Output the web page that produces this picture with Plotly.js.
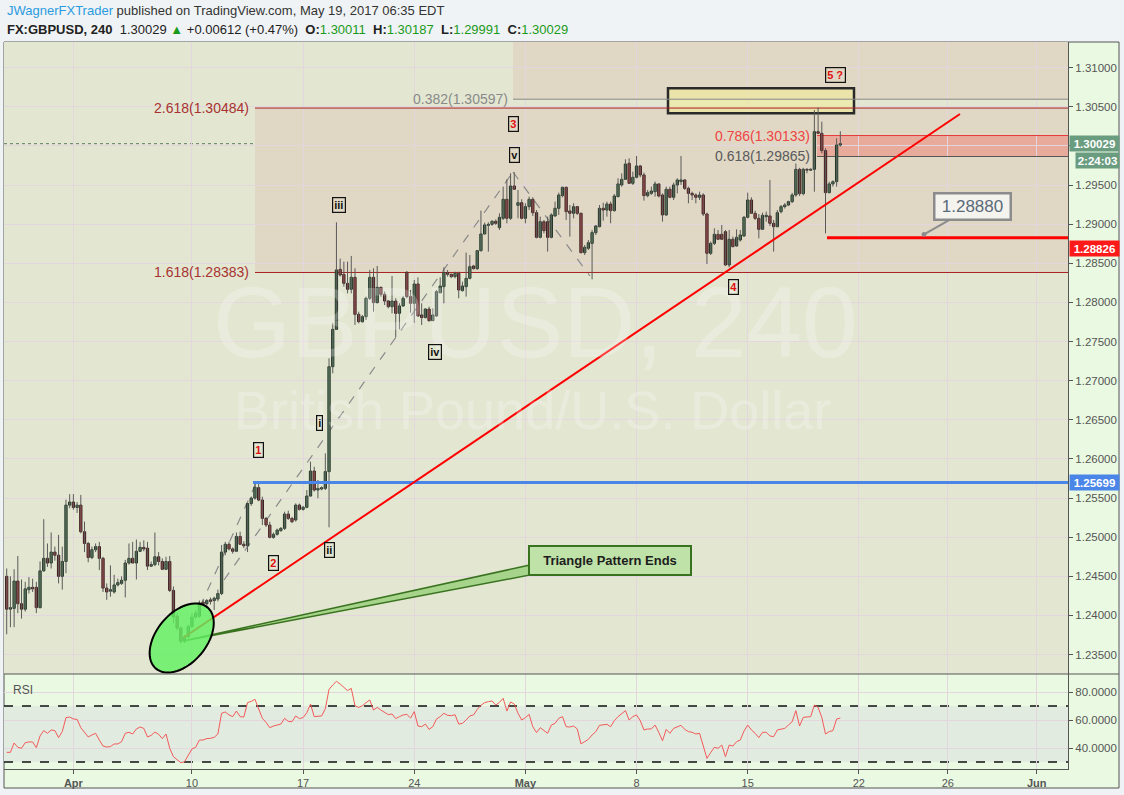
<!DOCTYPE html>
<html><head><meta charset="utf-8">
<script src="https://cdn.plot.ly/plotly-3.0.1.min.js"></script>
<style>html,body{margin:0;padding:0;background:#f0f3f5;}#chart{width:1124px;height:795px;}</style>
</head><body><div id="chart"></div>
<script>
// ---------------- DATA (240-minute GBPUSD bars) ----------------
const opens = [1.2450,1.2408,1.2409,1.2444,1.2415,1.2408,1.2433,1.2436,1.2436,1.2410,
1.2457,1.2473,1.2467,1.2481,1.2477,1.2450,1.2469,1.2541,1.2545,1.2538,
1.2541,1.2507,1.2492,1.2474,1.2484,1.2488,1.2473,1.2435,1.2431,1.2430,
1.2439,1.2441,1.2445,1.2467,1.2473,1.2467,1.2482,1.2487,1.2486,1.2463,
1.2465,1.2475,1.2469,1.2459,1.2469,1.2432,1.2399,1.2384,1.2367,1.2373,
1.2386,1.2398,1.2399,1.2417,1.2415,1.2420,1.2419,1.2421,1.2428,1.2481,
1.2491,1.2485,1.2482,1.2501,1.2491,1.2489,1.2543,1.2550,1.25633,1.25475,
1.25241,1.25156,1.24998,1.25037,1.25084,1.25113,1.25296,1.25241,1.25220,1.25411,
1.25356,1.25382,1.25526,1.25846,1.25603,1.25616,1.25624,1.25838,1.27179,1.27656,
1.28423,1.28359,1.28244,1.28168,1.28321,1.27848,1.27754,1.27818,1.28053,1.28321,
1.27997,1.28193,1.28104,1.28018,1.27946,1.28018,1.27861,1.27955,1.28385,1.28074,
1.27989,1.28236,1.27840,1.27806,1.27916,1.27767,1.27827,1.28125,1.28202,1.28381,
1.28359,1.28330,1.28372,1.28151,1.28202,1.28308,1.28466,1.28432,1.28662,1.28875,
1.28985,1.28998,1.29037,1.28956,1.29075,1.29318,1.29075,1.29488,1.29241,1.29275,
1.29075,1.29224,1.29318,1.29147,1.28832,1.29032,1.29032,1.28832,1.29105,1.29203,
1.29365,1.29471,1.29169,1.29139,1.29224,1.29139,1.28636,1.28692,1.28755,1.28892,
1.28968,1.29203,1.29181,1.29258,1.29173,1.29352,1.29501,1.29573,1.29778,1.29522,
1.29599,1.29744,1.29629,1.29365,1.29395,1.29416,1.29514,1.29373,1.29118,1.29446,
1.29343,1.29501,1.29544,1.29565,1.29458,1.29394,1.29373,1.29343,1.29373,1.29130,
1.28628,1.28755,1.28870,1.28870,1.28904,1.28479,1.28807,1.28721,1.28798,1.28849,
1.29088,1.29309,1.29139,1.29075,1.28934,1.29096,1.29105,1.29011,1.28968,1.29160,
1.29224,1.29245,1.29288,1.29373,1.29701,1.29390,1.29701,1.29690,1.29701,1.30182,
1.30161,1.29940,1.29403,1.29514,1.29543,1.30011];
const highs = [1.2460,1.2450,1.2459,1.2476,1.2446,1.2443,1.2449,1.2447,1.2443,1.2469,
1.2523,1.2492,1.2506,1.2488,1.2503,1.2488,1.2548,1.2555,1.2555,1.2545,
1.2554,1.2520,1.2494,1.2488,1.2492,1.2494,1.2475,1.2441,1.2464,1.2452,
1.2447,1.2450,1.2471,1.2492,1.2494,1.2497,1.2494,1.2496,1.2494,1.2469,
1.2506,1.2481,1.2473,1.2475,1.2476,1.2437,1.2403,1.2386,1.2375,1.2388,
1.2403,1.2407,1.2419,1.2420,1.2421,1.2423,1.2424,1.2433,1.2490,1.2494,
1.2494,1.2487,1.2506,1.2507,1.2495,1.2543,1.2552,1.2570,1.25699,1.25518,
1.25260,1.25198,1.25060,1.25110,1.25130,1.25326,1.25339,1.25260,1.25432,1.25430,
1.25400,1.25603,1.25965,1.25901,1.25731,1.25650,1.26072,1.27286,1.27733,1.29024,
1.28560,1.28521,1.28521,1.28594,1.28436,1.27882,1.27840,1.28074,1.28415,1.28436,
1.28466,1.28202,1.28138,1.28031,1.28338,1.28053,1.27989,1.28082,1.28400,1.28159,
1.28287,1.28321,1.27989,1.27925,1.27946,1.27925,1.28159,1.28321,1.28449,1.28415,
1.28370,1.28393,1.28393,1.28265,1.28636,1.28606,1.28480,1.28670,1.29173,1.29020,
1.29024,1.29050,1.29060,1.29139,1.29480,1.29573,1.29650,1.29663,1.29437,1.29318,
1.29267,1.29352,1.29343,1.29181,1.29096,1.29054,1.29096,1.29139,1.29288,1.29403,
1.29480,1.29480,1.29245,1.29267,1.29230,1.29147,1.28734,1.28798,1.28926,1.28990,
1.29245,1.29275,1.29288,1.29288,1.29386,1.29586,1.29650,1.29829,1.29842,1.29671,
1.29872,1.29757,1.29659,1.29437,1.29480,1.29544,1.29522,1.29394,1.29480,1.29480,
1.29531,1.29586,1.29872,1.29573,1.29480,1.29416,1.29394,1.29416,1.29394,1.29147,
1.28777,1.28947,1.28926,1.28990,1.28926,1.28926,1.28841,1.28934,1.28926,1.29105,
1.29403,1.29343,1.29173,1.29130,1.29147,1.29160,1.29565,1.29054,1.29181,1.29245,
1.29270,1.29300,1.29400,1.29775,1.29720,1.29720,1.29715,1.29715,1.30459,1.30490,
1.30310,1.29970,1.29543,1.29560,1.30097,1.30187];
const lows = [1.2376,1.2385,1.2385,1.2403,1.2396,1.2405,1.2428,1.2430,1.2403,1.2409,
1.2456,1.2462,1.2460,1.2470,1.2441,1.2433,1.2454,1.2537,1.2535,1.2531,
1.2505,1.2481,1.2468,1.2472,1.2481,1.2458,1.2430,1.2420,1.2424,1.2428,
1.2437,1.2439,1.2423,1.2465,1.2467,1.2446,1.2482,1.2482,1.2458,1.2462,
1.2463,1.2464,1.2458,1.2458,1.2430,1.2390,1.2381,1.2364,1.2365,1.2371,
1.2384,1.2396,1.2397,1.2413,1.2411,1.2414,1.2407,1.2418,1.2426,1.2477,
1.2483,1.2479,1.2481,1.2490,1.2486,1.2481,1.2540,1.2548,1.2546,1.25156,
1.25130,1.24985,1.24980,1.25020,1.25070,1.25092,1.25220,1.25180,1.25200,1.25340,
1.25340,1.25370,1.25518,1.25582,1.25497,1.25600,1.25603,1.25126,1.27094,1.27650,
1.28330,1.28202,1.28116,1.28116,1.27712,1.27733,1.27742,1.27776,1.28031,1.27882,
1.27989,1.28074,1.27967,1.27925,1.27861,1.27554,1.27656,1.27946,1.28053,1.27869,
1.27742,1.27818,1.27712,1.27797,1.27754,1.27767,1.27818,1.28116,1.27989,1.28330,
1.28310,1.28308,1.28053,1.28138,1.28074,1.28295,1.28420,1.28415,1.28649,1.28870,
1.28649,1.28980,1.28990,1.28926,1.29054,1.29011,1.29054,1.29437,1.29075,1.29062,
1.29011,1.29181,1.29105,1.28819,1.28819,1.28883,1.28649,1.28819,1.29096,1.29118,
1.29343,1.29054,1.28841,1.29075,1.29118,1.28628,1.28606,1.28670,1.28295,1.28862,
1.28960,1.29045,1.29096,1.29011,1.29160,1.29343,1.29480,1.29565,1.29514,1.29501,
1.29586,1.29599,1.29301,1.29343,1.29373,1.29352,1.29343,1.29032,1.29105,1.29331,
1.29309,1.29394,1.29501,1.29437,1.29267,1.29309,1.29267,1.29309,1.29105,1.28491,
1.28606,1.28734,1.28798,1.28798,1.28466,1.28449,1.28704,1.28713,1.28777,1.28841,
1.29075,1.29130,1.29054,1.28819,1.28926,1.29032,1.28977,1.28649,1.28960,1.29138,
1.29200,1.29230,1.29270,1.29350,1.29360,1.29370,1.29650,1.29680,1.29415,1.30150,
1.29905,1.28883,1.29394,1.29480,1.29480,1.29991];
const closes = [1.2408,1.2410,1.2444,1.2415,1.2408,1.2434,1.2436,1.2434,1.2410,1.2457,
1.2473,1.2467,1.2481,1.2477,1.2450,1.2469,1.2541,1.2545,1.2538,1.2541,
1.2507,1.2492,1.2474,1.2484,1.2488,1.2473,1.2435,1.2430,1.2433,1.2439,
1.2442,1.2445,1.2467,1.2473,1.2467,1.2482,1.2487,1.2485,1.2463,1.2465,
1.2475,1.2469,1.2459,1.2469,1.2432,1.2398,1.2384,1.2367,1.2372,1.2386,
1.2398,1.2403,1.2416,1.2415,1.2419,1.2418,1.2422,1.2428,1.2481,1.2491,
1.2485,1.2482,1.2501,1.2491,1.2489,1.2543,1.2550,1.2564,1.25475,1.25241,
1.25156,1.24998,1.25037,1.25092,1.25113,1.25296,1.25241,1.25198,1.25411,1.25356,
1.25382,1.25526,1.25846,1.25603,1.25624,1.25633,1.25838,1.27179,1.27656,1.28415,
1.28351,1.28244,1.28168,1.28321,1.27848,1.27754,1.27818,1.28053,1.28321,1.27997,
1.28193,1.28104,1.28018,1.27946,1.28018,1.27861,1.27955,1.28053,1.28074,1.27989,
1.28236,1.27827,1.27806,1.27916,1.27767,1.27840,1.28138,1.28210,1.28381,1.28359,
1.28330,1.28372,1.28159,1.28210,1.28308,1.28457,1.28432,1.28662,1.28875,1.28990,
1.28998,1.29037,1.29011,1.29088,1.29318,1.29075,1.29488,1.29446,1.29275,1.29075,
1.29224,1.29318,1.29147,1.28832,1.29032,1.28917,1.28832,1.29118,1.29203,1.29373,
1.29471,1.29160,1.29139,1.29224,1.29139,1.28636,1.28704,1.28764,1.28892,1.28977,
1.29203,1.29181,1.29258,1.29173,1.29360,1.29514,1.29573,1.29769,1.29522,1.29599,
1.29744,1.29629,1.29365,1.29403,1.29424,1.29514,1.29360,1.29118,1.29446,1.29343,
1.29501,1.29565,1.29565,1.29458,1.29394,1.29373,1.29343,1.29373,1.29130,1.28628,
1.28755,1.28870,1.28807,1.28807,1.28479,1.28807,1.28713,1.28832,1.28862,1.29088,
1.29309,1.29139,1.29075,1.28934,1.29113,1.29113,1.29011,1.28968,1.29147,1.29224,
1.29245,1.29288,1.29373,1.29701,1.29390,1.29701,1.29690,1.29701,1.30182,1.30161,
1.29940,1.29403,1.29514,1.29543,1.30012,1.30029];
const rsiValues = [36.9,36.9,43.6,40.5,39.8,43.8,44.3,44.3,40.2,48.6,
52.4,50.5,52.9,52.4,47.4,51.7,61.7,62.1,60.7,60.5,
54.5,51.4,47.9,49.3,50.5,45.7,41.4,40.7,41.0,42.9,
42.9,44.5,50.5,51.2,50.0,53.6,55.0,54.0,47.9,49.0,
51.4,49.8,46.7,50.0,39.8,33.8,31.9,29.5,30.2,35.0,
39.3,40.5,45.7,45.7,46.7,46.9,47.6,50.0,64.8,65.7,
63.6,62.4,66.4,62.4,62.1,72.4,73.3,74.8,68.3,61.2,
58.3,54.5,55.7,56.4,57.1,61.2,59.0,58.8,62.9,61.0,
61.7,65.2,71.4,62.4,62.9,62.9,68.1,81.9,85.0,87.6,
85.7,83.3,81.0,82.6,70.2,69.0,70.2,72.4,74.3,67.1,
69.0,67.1,65.2,63.8,64.3,61.0,62.4,63.6,64.0,61.4,
66.0,55.7,55.2,57.1,53.3,55.2,60.7,62.4,64.8,63.3,
63.1,63.8,57.1,57.6,60.0,62.9,63.6,67.6,70.5,72.4,
73.1,73.6,70.7,72.6,75.5,66.4,72.9,71.4,64.8,60.0,
61.7,64.0,55.2,51.0,54.5,52.4,50.5,56.4,57.6,61.2,
62.4,55.2,55.0,55.7,53.6,42.9,44.5,46.2,49.3,51.7,
56.2,56.4,56.9,55.2,59.5,62.4,64.3,66.7,60.0,62.4,
63.6,59.5,52.9,53.6,53.6,56.4,51.2,45.2,53.3,50.5,
54.0,55.2,56.2,53.3,51.7,51.2,50.0,50.5,42.1,32.6,
36.7,40.5,39.8,42.1,33.8,42.1,41.4,44.5,45.7,52.1,
56.4,52.9,50.5,47.4,51.2,51.2,48.6,48.1,52.9,53.6,
54.0,56.4,58.8,66.7,55.7,61.9,61.9,62.4,70.7,69.0,
61.9,50.0,51.7,52.4,60.7,61.4];
const barIndex = opens.map((_, i) => i);
const tickIdx = [18, 50, 80, 110, 140, 170, 200, 230, 254, 278];
const tickLabels = ['<b>Apr</b>','10','17','24','<b>May</b>','8','15','22','26','<b>Jun</b>'];
const fibNames = ['2.618', '1.618', '0.382', '0.786', '0.618'];
const fibPrices = [1.30484, 1.28383, 1.30597, 1.30133, 1.29865];
const wave1Top = 1.25699;
const stopLevel = 1.28826;
const calloutPrice = 1.28880;
const lastPrice = 1.30029;
const rsiBands = [30, 70];

// ---------------- GEOMETRY ----------------
const W = 1124, H = 795, ML = 4, MR = 56, MT = 42, MB = 26;
const plotW = W - ML - MR, plotH = H - MT - MB;
const splitPx = 674;
const mainD0 = (H - MB - splitPx) / plotH;
const xRange = [-0.73, 286.45];
const yRange = [1.23252, 1.31328];
const rsiRange = [25, 92.86];
const X = px => xRange[0] + (px - ML) / plotW * (xRange[1] - xRange[0]);
const P = py => yRange[1] - (py - MT) / (splitPx - MT) * (yRange[1] - yRange[0]);
const PX = px => (px - ML) / plotW;
const PY = py => (H - MB - py) / plotH;
const font = 'Liberation Sans, Arial, sans-serif';

function ellipsePath(cx, cy, a, b, deg) {
  const t = deg * Math.PI / 180; let d = '';
  for (let k = 0; k <= 72; k++) {
    const u = k / 72 * 2 * Math.PI;
    const px = cx + a * Math.cos(u) * Math.cos(t) - b * Math.sin(u) * Math.sin(t);
    const py = cy - (a * Math.cos(u) * Math.sin(t) + b * Math.sin(u) * Math.cos(t));
    d += (k ? 'L' : 'M') + X(px).toFixed(3) + ',' + P(py).toFixed(6);
  }
  return d + 'Z';
}

// candles: wicks as one segmented line, bodies as bars
const wickX = [], wickY = [];
barIndex.forEach(i => { wickX.push(i, i, null); wickY.push(lows[i], highs[i], null); });
const bodyBase = barIndex.map(i => Math.min(opens[i], closes[i]));
const bodyLen = barIndex.map(i => Math.max(Math.abs(closes[i] - opens[i]), 0.00003));
const bodyFill = barIndex.map(i => closes[i] >= opens[i] ? '#4f8a5c' : '#cc3030');
const bodyEdge = barIndex.map(i => closes[i] >= opens[i] ? '#233627' : '#3a2020');

const traces = [
  {type: 'scatter', mode: 'lines', x: wickX, y: wickY, xaxis: 'x', yaxis: 'y', line: {color: '#5a5a5a', width: 1}, hoverinfo: 'skip', connectgaps: false},
  {type: 'bar', x: barIndex, y: bodyLen, base: bodyBase, width: 0.62, xaxis: 'x', yaxis: 'y', hoverinfo: 'skip',
   marker: {color: bodyFill, line: {color: bodyEdge, width: 1}}},
  {type: 'scatter', mode: 'lines', x: barIndex, y: rsiValues, xaxis: 'x', yaxis: 'y2',
   line: {color: '#f25a5a', width: 1}, hoverinfo: 'skip'}
];

const xEnd = xRange[1];
const shapes = [
  {type: 'rect', xref: 'paper', yref: 'paper', x0: 0, x1: PX(1119), y0: PY(788), y1: 1, fillcolor: '#eafae2', line: {color: '#555', width: 1}, layer: 'below'},
  {type: 'rect', xref: 'paper', yref: 'paper', x0: 0, x1: 1, y0: mainD0, y1: 1, fillcolor: '#e3e7d1', line: {width: 0}, layer: 'below'},
  {type: 'rect', xref: 'paper', yref: 'y2', x0: 0, x1: 1, y0: rsiBands[0], y1: rsiBands[1], fillcolor: '#e2ebe0', line: {width: 0}, layer: 'below'},
  {type: 'rect', xref: 'x', yref: 'y', x0: X(255), x1: xEnd, y0: fibPrices[1], y1: fibPrices[0], fillcolor: '#e0d8c4', line: {width: 0}, layer: 'below'},
  {type: 'rect', xref: 'x', yref: 'y', x0: X(513), x1: xEnd, y0: fibPrices[2], y1: yRange[1], fillcolor: '#e0d8c4', line: {width: 0}, layer: 'below'},
  {type: 'rect', xref: 'x', yref: 'y', x0: X(817), x1: xEnd, y0: fibPrices[4], y1: fibPrices[3], fillcolor: '#e8aa9b', line: {width: 0}, layer: 'below'},
  {type: 'rect', xref: 'x', yref: 'y', x0: X(668), x1: X(854), y0: P(113.3), y1: P(88.3), fillcolor: 'rgba(242,236,150,0.55)', line: {color: '#2a2a2a', width: 2.5}, layer: 'between'},
  {type: 'line', xref: 'x', yref: 'y', x0: X(255), x1: xEnd, y0: fibPrices[0], y1: fibPrices[0], line: {color: '#a82020', width: 1}, layer: 'between'},
  {type: 'line', xref: 'x', yref: 'y', x0: X(255), x1: xEnd, y0: fibPrices[1], y1: fibPrices[1], line: {color: '#a82020', width: 1}, layer: 'between'},
  {type: 'line', xref: 'x', yref: 'y', x0: X(513), x1: xEnd, y0: fibPrices[2], y1: fibPrices[2], line: {color: '#8a8a8a', width: 1}, layer: 'between'},
  {type: 'line', xref: 'x', yref: 'y', x0: X(817), x1: xEnd, y0: fibPrices[3], y1: fibPrices[3], line: {color: '#e83a3a', width: 1}, layer: 'between'},
  {type: 'line', xref: 'x', yref: 'y', x0: X(817), x1: xEnd, y0: fibPrices[4], y1: fibPrices[4], line: {color: '#555555', width: 1}, layer: 'between'},
  {type: 'line', xref: 'paper', yref: 'y', x0: 0, x1: 1, y0: lastPrice, y1: lastPrice, line: {color: '#5f7f66', width: 1, dash: 'dot'}, layer: 'between'},
  {type: 'line', xref: 'x', yref: 'y', x0: X(200), y0: P(607), x1: X(257), y1: P(481), line: {color: '#8a8a8a', width: 1.2, dash: 'dash'}, layer: 'between'},
  {type: 'line', xref: 'x', yref: 'y', x0: X(224), y0: P(580), x1: X(513), y1: P(172), line: {color: '#8a8a8a', width: 1.2, dash: 'dash'}, layer: 'between'},
  {type: 'line', xref: 'x', yref: 'y', x0: X(513), y0: P(172), x1: X(590), y1: P(276), line: {color: '#8a8a8a', width: 1.2, dash: 'dash'}, layer: 'between'},
  {type: 'line', xref: 'paper', yref: 'y2', x0: 0, x1: 1, y0: rsiBands[0], y1: rsiBands[0], line: {color: '#111', width: 1.5, dash: 'dash'}, layer: 'between'},
  {type: 'line', xref: 'paper', yref: 'y2', x0: 0, x1: 1, y0: rsiBands[1], y1: rsiBands[1], line: {color: '#111', width: 1.5, dash: 'dash'}, layer: 'between'},
  {type: 'line', xref: 'x', yref: 'y', x0: X(253), x1: xEnd, y0: wave1Top, y1: wave1Top, line: {color: '#4a86e8', width: 3}, layer: 'above'},
  {type: 'line', xref: 'x', yref: 'y', x0: X(827), x1: xEnd, y0: stopLevel, y1: stopLevel, line: {color: '#ff0000', width: 3}, layer: 'above'},
  {type: 'line', xref: 'x', yref: 'y', x0: X(183), y0: P(638), x1: X(960), y1: P(114), line: {color: '#ff0000', width: 2}, layer: 'above'},
  {type: 'path', xref: 'x', yref: 'y', path: 'M' + X(183) + ',' + P(641) + 'L' + X(530) + ',' + P(565) + 'L' + X(530) + ',' + P(575) + 'Z', fillcolor: '#a6d48b', line: {color: '#3a7320', width: 1.5}, layer: 'above'},
  {type: 'path', xref: 'x', yref: 'y', path: ellipsePath(181.7, 638, 40, 25, 50), fillcolor: 'rgba(98,240,98,0.82)', line: {color: '#000', width: 2}, layer: 'above'},
  {type: 'line', xref: 'paper', yref: 'paper', x0: 0, x1: PX(1119), y0: mainD0, y1: mainD0, line: {color: '#555', width: 1}, layer: 'above'}
];

const G = '#1a9a1a';
const sp = '\u00a0';
const annotations = [
  {xref: 'paper', yref: 'paper', x: PX(5), y: PY(11), xanchor: 'left', yanchor: 'middle', showarrow: false,
   text: '<span style="color:#2b9be0">JWagnerFXTrader</span> published on TradingView.com, May 19, 2017 06:35 EDT', font: {size: 13, color: '#333'}},
  {xref: 'paper', yref: 'paper', x: PX(5), y: PY(29), xanchor: 'left', yanchor: 'middle', showarrow: false,
   text: '<b>FX:GBPUSD, 240</b>' + sp + sp + '1.30029 <span style="color:' + G + '">▲</span> +0.00612 (+0.47%)' + sp + sp +
     '<b>O:</b><span style="color:' + G + '">1.30011</span>' + sp + sp + '<b>H:</b><span style="color:' + G + '">1.30187</span>' + sp + sp +
     '<b>L:</b><span style="color:' + G + '">1.29991</span>' + sp + sp + '<b>C:</b><span style="color:' + G + '">1.30029</span>',
   font: {size: 13, color: '#222'}},
  {xref: 'paper', yref: 'paper', x: PX(535), y: PY(322), showarrow: false, text: 'GBPUSD, 240', font: {size: 100, color: 'rgba(255,255,255,0.24)'}},
  {xref: 'paper', yref: 'paper', x: PX(532), y: PY(410), showarrow: false, text: 'British Pound/U.S. Dollar', font: {size: 54, color: 'rgba(255,255,255,0.24)'}},
  {xref: 'paper', yref: 'paper', x: PX(11), y: PY(690), xanchor: 'left', yanchor: 'middle', showarrow: false, text: 'RSI', font: {size: 12, color: '#555'}},
];
const fibLabelRight = [251, 251, 510, 812, 812];
const fibLabelColor = ['#a83232', '#a83232', '#8a8a8a', '#ef4444', '#5a5a5a'];
fibNames.forEach((n, k) => annotations.push({xref: 'x', yref: 'y', x: X(fibLabelRight[k]), y: fibPrices[k], xanchor: 'right', yanchor: 'middle', showarrow: false,
  text: n + '(' + fibPrices[k].toFixed(5) + ')', font: {size: 14, color: fibLabelColor[k]}}));
const waveText = ['1', '2', '3', '4', '5 ?', 'i', 'ii', 'iii', 'iv', 'v'];
const wavePx = [[258.8, 449.5], [273, 563], [513, 124], [733, 286.7], [835, 75.3], [319.7, 422.7], [329, 550], [338.8, 204.5], [434.8, 352.2], [514.2, 154.5]];
waveText.forEach((t, k) => annotations.push({xref: 'x', yref: 'y', x: X(wavePx[k][0]), y: P(wavePx[k][1]), showarrow: false,
  text: '<b>' + t + '</b>', font: {size: 11, color: k < 5 ? '#e01010' : '#111'}, bordercolor: '#111', borderwidth: 1.2, borderpad: 1}));
annotations.push({xref: 'x', yref: 'y', x: X(610), y: P(560.5), showarrow: false, text: '<b>Triangle Pattern Ends</b>',
  font: {size: 13, color: '#1d1d1d'}, bgcolor: '#bfe2a8', bordercolor: '#3a7320', borderwidth: 2, width: 158, height: 25, borderpad: 1});
annotations.push({xref: 'x', yref: 'y', x: X(924), y: calloutPrice - 0.0001, ax: 48.5, ay: -27.5, axref: 'pixel', ayref: 'pixel',
  showarrow: true, arrowhead: 6, arrowsize: 0.6, arrowwidth: 2, arrowcolor: '#8c8c8c', standoff: 0,
  text: calloutPrice.toFixed(5), font: {size: 17, color: '#5b6a79'}, bgcolor: '#f4f3ee', bordercolor: '#8c8c8c', borderwidth: 2.5, width: 72, height: 22, borderpad: 1});
const tag = (txt, yv, bg, x0px) => ({xref: 'paper', yref: 'y', x: PX(x0px), y: yv, xanchor: 'left', yanchor: 'middle', showarrow: false,
  text: '<b>' + txt + '</b>', font: {size: 11.5, color: '#fff'}, bgcolor: bg, width: 1118 - x0px - 2, height: 13, borderpad: 1});
annotations.push(tag(lastPrice.toFixed(5), lastPrice, '#6a9c80', 1069));
annotations.push(tag('2:24:03', P(160.5), '#6a9c80', 1075));
annotations.push(tag(stopLevel.toFixed(5), P(248), '#ff1a1a', 1069));
annotations.push(tag(wave1Top.toFixed(5), wave1Top, '#4a86e8', 1069));

const gridC = '#e4d6de';
const layout = {
  width: W, height: H, margin: {l: ML, r: MR, t: MT, b: MB, pad: 0},
  paper_bgcolor: '#f0f3f5', plot_bgcolor: 'rgba(0,0,0,0)', showlegend: false, bargap: 0,
  font: {family: font, color: '#555', size: 11},
  xaxis: {range: xRange, anchor: 'y2', tickmode: 'array', tickvals: tickIdx, ticktext: tickLabels, showgrid: true, gridcolor: gridC,
    ticks: 'outside', ticklen: 4, tickcolor: '#555', showline: true, linecolor: '#555', zeroline: false,
    tickfont: {size: 11, color: '#555'}, fixedrange: true},
  yaxis: {domain: [mainD0, 1], range: yRange, side: 'right', anchor: 'x', dtick: 0.005, tick0: 1.23, tickformat: '.5f',
    showgrid: true, gridcolor: gridC, zeroline: false, ticks: 'outside', ticklen: 4, tickcolor: '#555', showline: true, linecolor: '#555',
    tickfont: {size: 11.5, color: '#555'}, fixedrange: true},
  yaxis2: {domain: [0, mainD0], range: rsiRange, side: 'right', anchor: 'x', tickmode: 'array', tickvals: [40, 60, 80], ticktext: ['40.0000', '60.0000', '80.0000'],
    showgrid: true, gridcolor: gridC, zeroline: false, ticks: 'outside', ticklen: 4, tickcolor: '#555', showline: true, linecolor: '#555',
    tickfont: {size: 11.5, color: '#555'}, fixedrange: true},
  shapes: shapes, annotations: annotations
};
Plotly.newPlot('chart', traces, layout, {displayModeBar: false, staticPlot: true});
</script></body></html>
